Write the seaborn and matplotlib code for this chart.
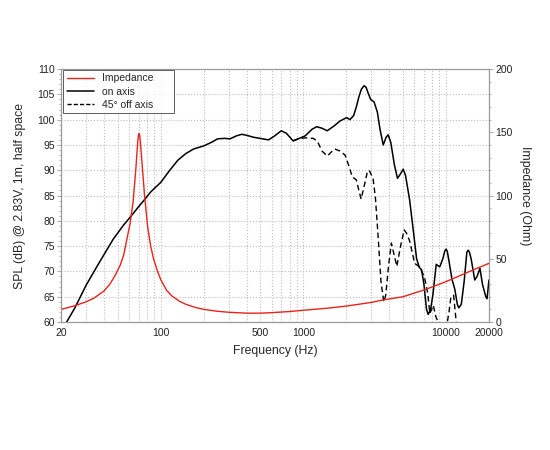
import numpy as np
import pandas as pd
import matplotlib
matplotlib.use("Agg")
import matplotlib.pyplot as plt
from matplotlib.ticker import FixedLocator, NullFormatter, MultipleLocator
from matplotlib.lines import Line2D
import seaborn as sns

# on-axis SPL (Hz, dB)
on_freq = [21.5, 22, 25, 30, 37.5, 46.5, 55, 61, 70, 77, 85, 100, 115, 132, 150, 170, 200,
           230, 250, 280, 306, 340, 370, 400, 450, 520, 570, 630, 700, 760, 848, 920,
           1030, 1150, 1240, 1350, 1470, 1650, 1800, 2010, 2120, 2250, 2350, 2450, 2550,
           2660, 2750, 2850, 2960, 3130, 3300, 3450, 3630, 3800, 3930, 4100, 4350, 4570,
           4800, 5010, 5200, 5560, 5890, 6220, 6500, 6740, 7000, 7300, 7500, 7800, 8100,
           8540, 9040, 9500, 9800, 10000, 10200, 10500, 11000, 11520, 12000, 12300,
           12800, 13400, 14000, 14300, 14600, 15000, 15900, 16500, 17300, 18000, 19000,
           19400, 20000]
on_spl = [59.6, 60.1, 62.8, 67.3, 72.0, 76.4, 79.2, 80.7, 82.8, 84.2, 85.7, 87.6, 89.9,
          92.0, 93.3, 94.2, 94.8, 95.6, 96.2, 96.3, 96.2, 96.8, 97.1, 96.9, 96.5, 96.2,
          96.0, 96.8, 97.8, 97.3, 95.8, 96.2, 96.8, 98.1, 98.6, 98.3, 97.8, 98.8, 99.7,
          100.4, 100.0, 100.8, 102.5, 104.5, 106.0, 106.7, 106.4, 105.2, 104.0, 103.5,
          101.5, 98.0, 95.0, 96.5, 97.0, 95.5, 91.0, 88.4, 89.3, 90.2, 89.0, 84.1, 78.2,
          72.5, 70.8, 70.3, 67.5, 62.5, 61.5, 62.5, 65.5, 71.4, 70.9, 72.5, 74.0, 74.4,
          74.0, 72.0, 68.5, 66.5, 63.5, 62.8, 63.5, 68.0, 73.8, 74.2, 73.8, 72.5, 68.3,
          69.0, 70.6, 67.5, 65.0, 64.6, 68.3]

# 45 deg off axis SPL (Hz, dB)
off_freq = [848, 920, 1030, 1170, 1250, 1350, 1470, 1570, 1660, 1800, 1960, 2100, 2200,
            2350, 2450, 2540, 2700, 2800, 2890, 3080, 3200, 3340, 3500, 3660, 3780, 3950,
            4140, 4350, 4520, 4800, 5090, 5300, 5560, 6030, 6520, 7060, 7450, 7700, 7920,
            8140, 8500, 8800, 9300, 10100, 10500, 10800, 11300, 11700, 12000, 12500]
off_spl = [95.8, 96.2, 96.4, 96.3, 95.8, 93.8, 92.8, 93.6, 94.2, 93.8, 93.0, 90.6, 88.7,
           88.1, 86.0, 84.3, 87.5, 89.5, 90.0, 88.4, 84.5, 77.0, 68.0, 64.0, 65.3, 71.0,
           75.6, 73.0, 71.0, 75.0, 78.2, 77.5, 76.0, 71.6, 70.9, 68.9, 65.6, 61.7, 62.5,
           63.3, 61.0, 60.0, 58.5, 59.2, 62.0, 64.8, 65.3, 61.0, 58.0, 56.0]

# impedance (Hz, Ohm)
imp_freq = [20, 25, 30, 34, 40, 44, 48, 52, 55, 58, 61, 64, 67, 69, 69.8, 70.5, 71.2, 72,
            74, 77, 81, 85, 89, 95, 100, 110, 120, 135, 150, 175, 200, 250, 300, 400, 500,
            600, 800, 1000, 1500, 2000, 3000, 3600, 5000, 7000, 10000, 14500, 20000]
imp_ohm = [10.0, 12.9, 16.0, 18.9, 24.5, 30, 37, 45, 53, 66, 78, 95, 122, 143, 147.5, 149,
           147.5, 142, 125, 100, 75, 60, 50, 40, 33.5, 25, 20.5, 16.5, 14, 11.5, 10, 8.5,
           7.7, 7.0, 7.0, 7.4, 8.3, 9.3, 11, 12.6, 15.5, 17.4, 20, 25.3, 31.9, 39.8, 46.4]

x_labels = [20, 100, 500, 1000, 10000, 20000]

sns.set_style("white")
plt.rcParams['font.family'] = ['Liberation Sans', 'DejaVu Sans']

on_df = pd.DataFrame({'freq': on_freq, 'spl': on_spl})
off_df = pd.DataFrame({'freq': off_freq, 'spl': off_spl})
imp_df = pd.DataFrame({'freq': imp_freq, 'ohm': imp_ohm})

fig = plt.figure(figsize=(5.5, 4.5), dpi=100)
ax = fig.add_axes([0.111, 0.2844, 0.778, 0.5622])
ax.set_xscale('log')
ax2 = ax.twinx()

sns.lineplot(data=on_df, x='freq', y='spl', ax=ax, color='black', lw=1.1, sort=False)
sns.lineplot(data=off_df, x='freq', y='spl', ax=ax, color='black', lw=1.0,
             linestyle=(0, (4, 2.5)), sort=False)
sns.lineplot(data=imp_df, x='freq', y='ohm', ax=ax2, color='#e8231b', lw=1.0, sort=False)

ax.set_xlim(20, 20000)
ax.set_ylim(60, 110)
ax2.set_ylim(0, 200)

grid_pos = [m * 10 ** e for e in range(1, 5) for m in range(1, 10)]
grid_pos = [g for g in grid_pos if 20 <= g <= 20000]
ax.xaxis.set_major_locator(FixedLocator(x_labels))
ax.xaxis.set_minor_locator(FixedLocator([g for g in grid_pos if g not in x_labels]))
ax.set_xticklabels([str(v) for v in x_labels])
ax.xaxis.set_minor_formatter(NullFormatter())

ax.yaxis.set_major_locator(MultipleLocator(5))
ax.yaxis.set_minor_locator(MultipleLocator(1))
ax2.yaxis.set_major_locator(MultipleLocator(50))
ax2.yaxis.set_minor_locator(MultipleLocator(10))

ax.grid(True, which='both', axis='x', color='#bdbdbd', linestyle=':', lw=0.8)
ax.grid(True, which='major', axis='y', color='#bdbdbd', linestyle=':', lw=0.8)
ax.set_axisbelow(True)
ax2.grid(False)

for a in (ax, ax2):
    for s in a.spines.values():
        s.set_color('#9a9a9a')
        s.set_linewidth(0.8)
    a.tick_params(which='major', length=3, width=0.6, color='#9a9a9a', labelsize=7.5,
                  labelcolor='#222222', pad=1.5)
    a.tick_params(which='minor', length=1.5, width=0.5, color='#9a9a9a')
ax.tick_params(axis='x', which='both', length=0, pad=4)
ax.tick_params(axis='y', which='both', left=True)
ax2.tick_params(axis='y', which='both', right=True)

ax.set_xlabel('Frequency (Hz)', fontsize=8.8, labelpad=5)
ax.set_ylabel('SPL (dB) @ 2.83V, 1m, half space', fontsize=8.8, labelpad=8)
ax2.set_ylabel('Impedance (Ohm)', fontsize=8.8, rotation=270, labelpad=13)

handles = [Line2D([], [], color='#e8231b', lw=1.0),
           Line2D([], [], color='black', lw=1.1),
           Line2D([], [], color='black', lw=1.0, linestyle=(0, (3, 1.5)))]
leg = ax.legend(handles, ['Impedance', 'on axis', '45° off axis'], loc='upper left',
                fontsize=7.5, frameon=True, fancybox=False, borderpad=0.35,
                labelspacing=0.3, handlelength=2.6, handletextpad=0.8,
                borderaxespad=0.0, mode='expand',
                bbox_to_anchor=(0.005, 0.997, 0.26, 0))
leg.get_frame().set_edgecolor('#333333')
leg.get_frame().set_linewidth(0.7)
leg.set_zorder(5)

fig.savefig('out.png', dpi=100, facecolor='white')
